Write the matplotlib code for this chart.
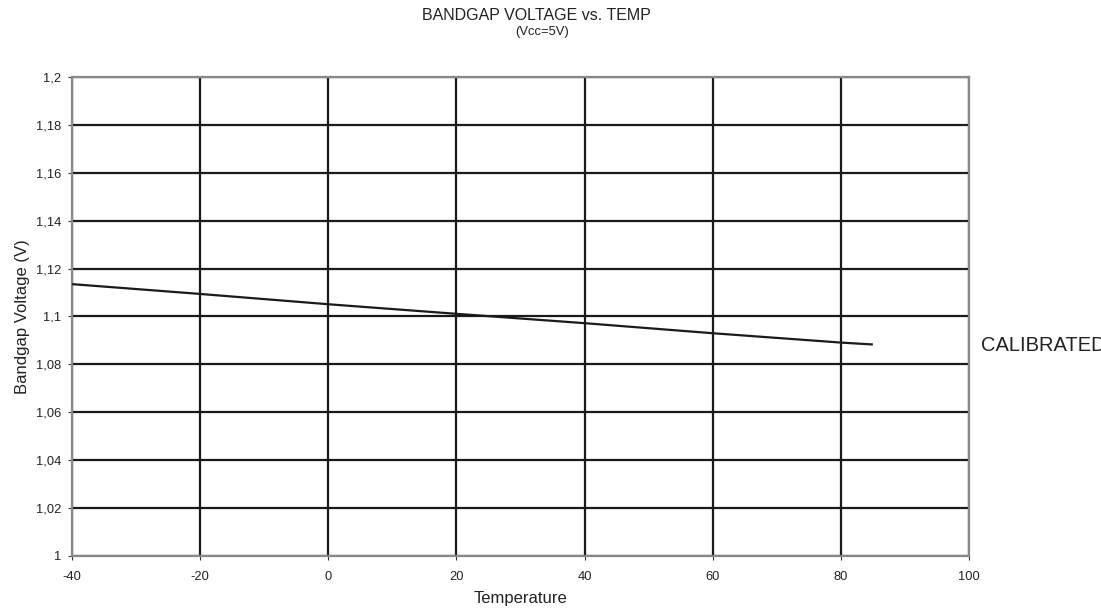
import numpy as np
import matplotlib.pyplot as plt

plt.rcParams['font.family'] = ['Liberation Sans', 'DejaVu Sans']

# data
temp = [-40, -20, 0, 20, 40, 60, 80, 85]
vbg = [1.1135, 1.1094, 1.1051, 1.1011, 1.0972, 1.0930, 1.0891, 1.0883]

x_ticks = [-40, -20, 0, 20, 40, 60, 80, 100]
y_ticks = [1.0, 1.02, 1.04, 1.06, 1.08, 1.1, 1.12, 1.14, 1.16, 1.18, 1.2]
y_labels = ['1', '1,02', '1,04', '1,06', '1,08', '1,1', '1,12', '1,14', '1,16', '1,18', '1,2']

fig = plt.figure(figsize=(11.01, 6.13), dpi=100)
ax = fig.add_axes([0.0654, 0.093, 0.8147, 0.7815])

ax.plot(temp, vbg, color='#1a1a1a', lw=1.6, solid_capstyle='butt', zorder=3)

ax.set_xlim(-40, 100)
ax.set_ylim(1.0, 1.2)
ax.set_xticks(x_ticks)
ax.set_xticklabels([str(t) for t in x_ticks])
ax.set_yticks(y_ticks)
ax.set_yticklabels(y_labels)

ax.grid(True, color='#1a1a1a', lw=1.6)
ax.set_axisbelow(True)
for s in ax.spines.values():
    s.set_color('#888888')
    s.set_linewidth(1.6)

ax.tick_params(axis='both', labelsize=9.3, color='#333333', length=3, width=0.8,
               labelcolor='#222222')
ax.tick_params(axis='x', pad=7.5)
ax.tick_params(axis='y', pad=4.5)

ax.set_xlabel('Temperature', fontsize=12, labelpad=6, color='#222222')
ax.set_ylabel('Bandgap Voltage (V)', fontsize=12, labelpad=4.5, color='#222222')

fig.text(0.487, 0.974, 'BANDGAP VOLTAGE vs. TEMP', ha='center', va='center',
         fontsize=11.5, color='#222222')
fig.text(0.4925, 0.948, '(Vcc=5V)', ha='center', va='center', fontsize=9.4,
         color='#222222')

# series label to the right of the plot (runs off the edge like the original)
fig.text(0.8907, 0.437, 'CALIBRATED', ha='left', va='center', fontsize=14.5,
         color='#222222')

plt.savefig('out.png', dpi=100)
